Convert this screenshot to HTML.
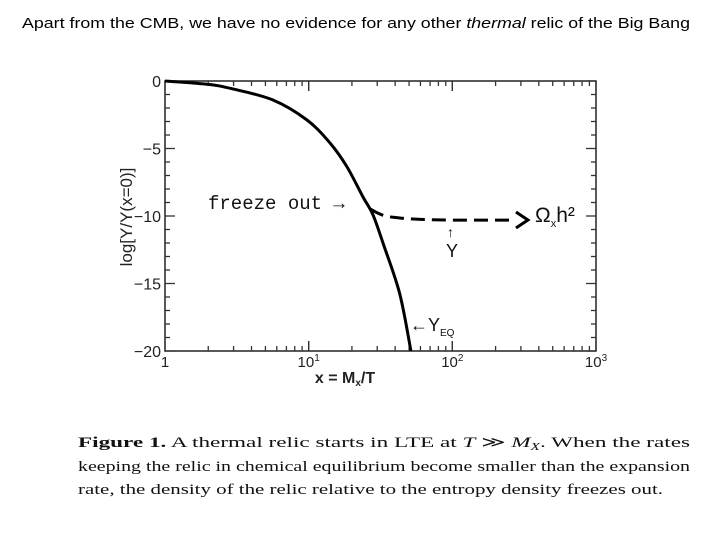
<!DOCTYPE html>
<html><head><meta charset="utf-8"><style>
body{margin:0;background:#fff;width:720px;height:540px;overflow:hidden}
svg{display:block}
</style></head><body>
<svg id="chart" width="720" height="540" font-family="Liberation Sans, sans-serif">
<text x="22" y="28" font-size="14.5" fill="#000" textLength="668" lengthAdjust="spacingAndGlyphs">Apart from the CMB, we have no evidence for any other <tspan font-style="italic">thermal</tspan> relic of the Big Bang</text>
<g id="axes"></g>
<g id="marks"></g>
<g font-family="Liberation Serif, serif" font-size="15" fill="#111">
<text x="78" y="447" textLength="612" lengthAdjust="spacingAndGlyphs"><tspan font-weight="bold">Figure 1.</tspan>     A thermal relic starts in LTE at <tspan font-style="italic">T</tspan> ≫ <tspan font-style="italic">M<tspan font-size="10" dy="3">X</tspan></tspan><tspan dy="-3">.  When the rates</tspan></text>
<text x="78" y="471" textLength="612" lengthAdjust="spacingAndGlyphs">keeping the relic in chemical equilibrium become smaller than the expansion</text>
<text x="78" y="494" textLength="585" lengthAdjust="spacingAndGlyphs">rate, the density of the relic relative to the entropy density freezes out.</text>
</g>
</svg>
<script>
const eqX = [1, 2, 3, 5.65, 9.73, 14.1, 18.5, 23.9, 28, 32.9, 43, 51.5];
const eqY = [0, -0.25, -0.6, -1.41, -2.89, -4.6, -6.37, -8.59, -9.9, -12.0, -15.75, -20];
const relicX = [27, 33, 43, 60, 100, 180, 260];
const relicY = [-9.5, -9.95, -10.15, -10.25, -10.3, -10.3, -10.3];
const yTicks = [0, -5, -10, -15, -20];
const xTickExp = [0, 1, 2, 3];

const L=165,R=596,T=81,B=351;
const sx=v=>L+(Math.log10(v)/3)*(R-L);
const sy=v=>T+(0-v)/20*(B-T);
const NS='http://www.w3.org/2000/svg';
function mk(tag,attrs,parent){const e=document.createElementNS(NS,tag);for(const k in attrs)e.setAttribute(k,attrs[k]);parent.appendChild(e);return e;}
const ax=document.getElementById('axes'), mg=document.getElementById('marks');
const frame=mk('rect',{x:L,y:T,width:R-L,height:B-T,fill:'none',stroke:'#222','stroke-width':1.5},ax);


for(let v=0;v>=-20;v--){const maj=v%5===0;const len=maj?10:5;const y=sy(v);
 const t1=mk('line',{x1:L,x2:L+len,y1:y,y2:y,stroke:'#333','stroke-width':1.3},ax);
 
 
 const t2=mk('line',{x1:R,x2:R-len,y1:y,y2:y,stroke:'#333','stroke-width':1.3},ax);
 
 }
yTicks.forEach(v=>{const t=mk('text',{x:L-4,y:sy(v)+6,'text-anchor':'end','font-size':16,fill:'#222'},ax);
 t.textContent=(v<0?'−':'')+Math.abs(v);
 
 });
for(let d=0;d<3;d++)for(let m=1;m<=10;m++){const v=m*Math.pow(10,d);const maj=(m===1||m===10);const len=maj?10:5;const x=sx(v);
 const t1=mk('line',{x1:x,x2:x,y1:B,y2:B-len,stroke:'#333','stroke-width':1.3},ax);
 
 
 const t2=mk('line',{x1:x,x2:x,y1:T,y2:T+len,stroke:'#333','stroke-width':1.3},ax);
 
 }
xTickExp.forEach(e=>{const x=sx(Math.pow(10,e));const t=mk('text',{x:x,y:B+16,'text-anchor':'middle','font-size':15,fill:'#222'},ax);
 if(e===0)t.textContent='1';else{t.textContent='10';const s=mk('tspan',{'font-size':10,dy:-6},t);s.textContent=String(e);}
 
 });
const xt=mk('text',{x:345,y:383,'text-anchor':'middle','font-size':16,'font-weight':'bold',fill:'#222'},ax);
xt.innerHTML='x = M<tspan font-size="10" dy="3">x</tspan><tspan dy="-3">/T</tspan>';


const yt=mk('text',{x:0,y:0,'text-anchor':'middle','font-size':17,fill:'#222',transform:'translate(132,217) rotate(-90)'},ax);
yt.textContent='log[Y/Y(x=0)]';


function smooth(X,Y){const p=X.map((v,i)=>[sx(v),sy(Y[i])]);let d='M'+p[0][0]+','+p[0][1];
 for(let i=0;i<p.length-1;i++){const p0=p[i-1]||p[i],p1=p[i],p2=p[i+1],p3=p[i+2]||p2;
  const c1=[p1[0]+(p2[0]-p0[0])/6,p1[1]+(p2[1]-p0[1])/6],c2=[p2[0]-(p3[0]-p1[0])/6,p2[1]-(p3[1]-p1[1])/6];
  d+=` C${c1[0].toFixed(1)},${c1[1].toFixed(1)} ${c2[0].toFixed(1)},${c2[1].toFixed(1)} ${p2[0].toFixed(1)},${p2[1].toFixed(1)}`;}
 return d;}
const eq=mk('path',{d:smooth(eqX,eqY),fill:'none',stroke:'#000','stroke-width':3},mg);


const rl=mk('path',{d:smooth(relicX,relicY),fill:'none',stroke:'#000','stroke-width':3,'stroke-dasharray':'14,7'},mg);


const lx=sx(relicX[relicX.length-1]), ly=sy(relicY[relicY.length-1]);
const ah=mk('polyline',{points:`${lx+4},${ly-8} ${lx+16},${ly} ${lx+4},${ly+8}`,fill:'none',stroke:'#000','stroke-width':3},mg);


function ann(txt,x,y,size,name){const t=mk('text',{x:x,y:y,'font-size':size,fill:'#111'},mg);t.innerHTML=txt;
 
 return t;}
ann('freeze out →',208,209,19,'freeze-out-label').setAttribute('font-family','Liberation Mono, monospace');
ann('Ω<tspan font-size="11" dy="5">x</tspan><tspan dy="-5">h²</tspan>',535,222,21,'omega-h2-label');
ann('↑',447,237,14,'y-arrow');
ann('Y',446,257,18,'y-label');
ann('←Y<tspan font-size="10" dy="5">EQ</tspan>',410,331,18,'yeq-label');
</script>
</body></html>
